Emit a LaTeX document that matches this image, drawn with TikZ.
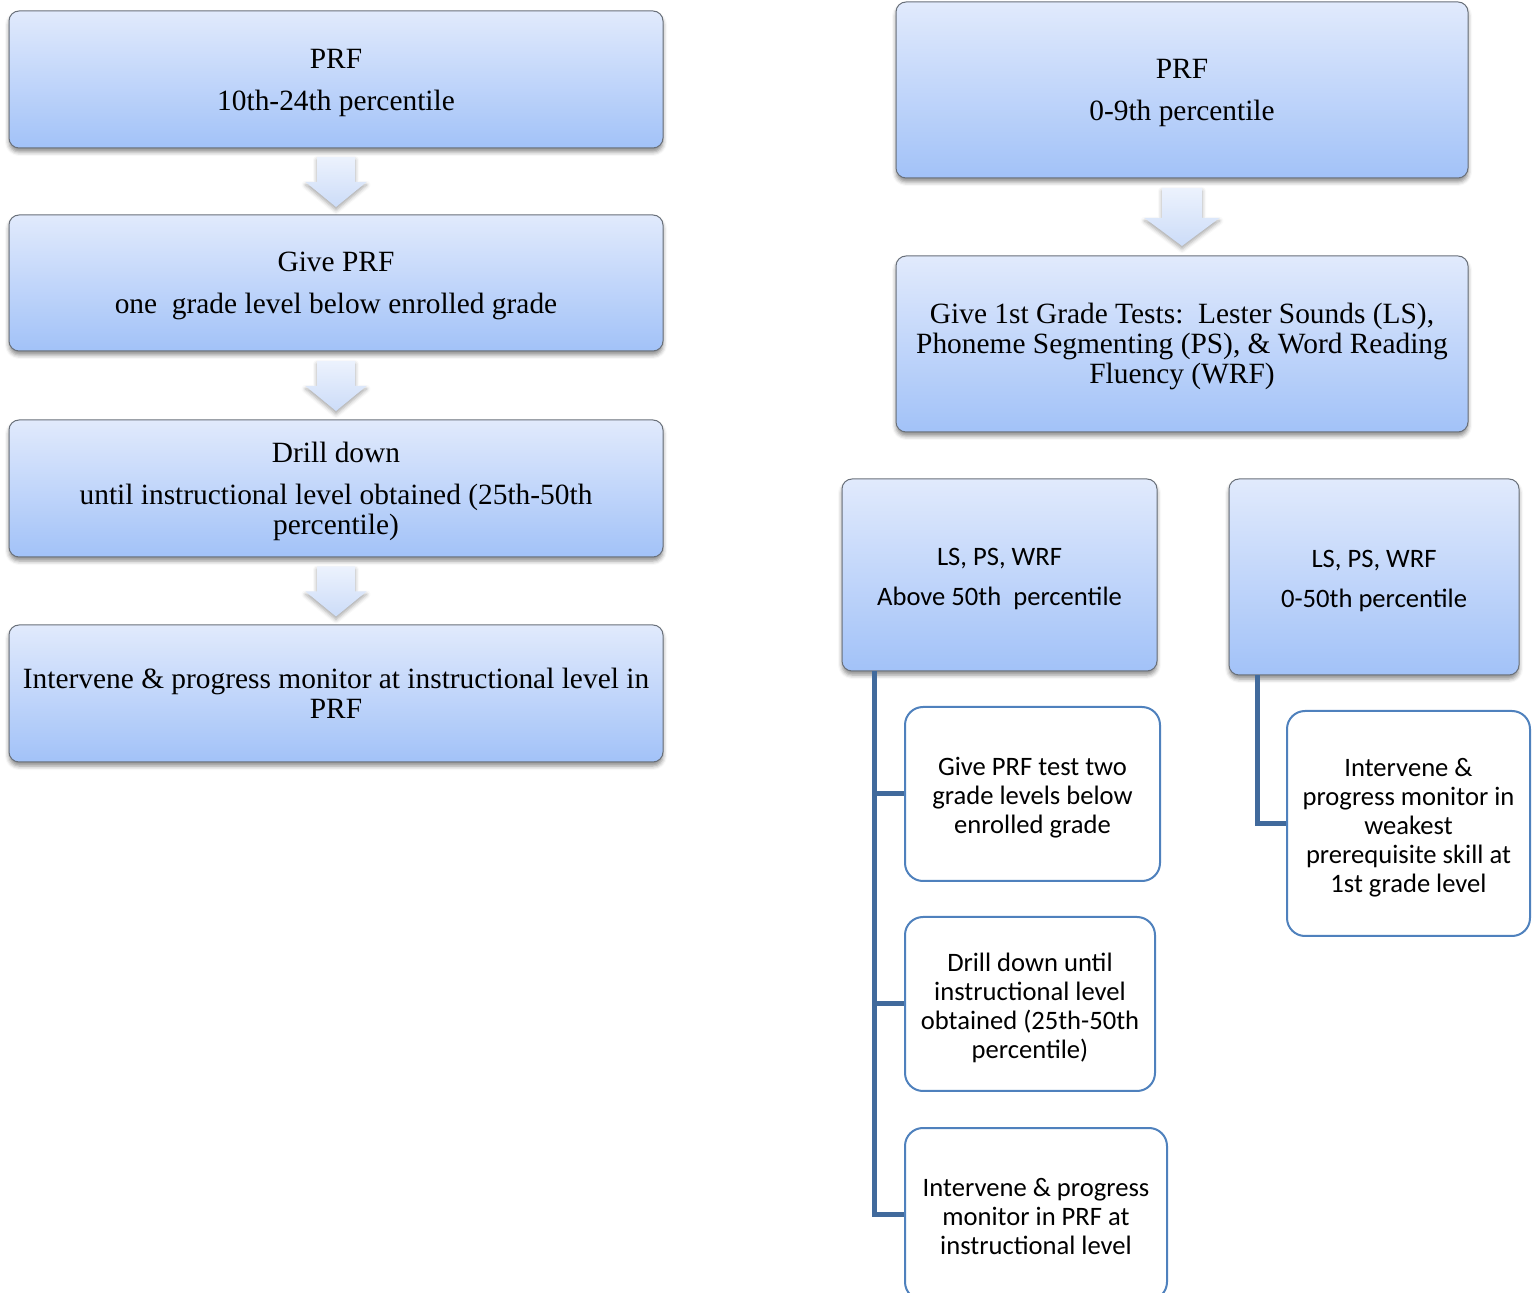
\documentclass[tikz,border=0pt]{standalone}
\usepackage{fontspec}
\setmainfont{Liberation Serif}
\newfontfamily\calib{Carlito}
\usetikzlibrary{shadows.blur,calc}
\definecolor{hdrTop}{RGB}{225,234,252}
\definecolor{hdrBot}{RGB}{162,194,248}
\definecolor{hdrEdge}{RGB}{105,112,122}
\definecolor{arrTop}{RGB}{236,242,253}
\definecolor{arrBot}{RGB}{204,220,248}
\definecolor{childBlue}{RGB}{79,129,189}
\definecolor{connBlue}{RGB}{65,106,156}
% struts giving every text block a fixed top and bottom, so that it sits
% at the same place in its box whatever letters it has
\newcommand\ts{\rule{0pt}{21pt}}
\newcommand\tss{\rule{0pt}{22pt}}
\newcommand\botstrut{\rule[-11pt]{0pt}{11pt}}
\tikzset{
  hdr/.style={draw=hdrEdge, line width=0.5pt, rounded corners=5pt,
    top color=hdrTop, bottom color=hdrBot,
    blur shadow={shadow xshift=0pt, shadow yshift=-2pt, shadow blur radius=2pt, shadow opacity=45},
    align=center, inner sep=0pt, execute at end node=\botstrut},
  serifhdr/.style={hdr, font=\fontsize{14.7}{15}\selectfont},
  sanshdr/.style={hdr, font=\calib\fontsize{13.3}{14.6}\selectfont},
  childbox/.style={draw=childBlue, line width=1pt, rounded corners=9pt, fill=white,
    align=center, inner sep=0pt, font=\calib\fontsize{13.3}{14.5}\selectfont,
    execute at end node=\botstrut},
  conn/.style={draw=connBlue, line width=2.5pt},
  blockarrow/.style={top color=arrTop, bottom color=arrBot, draw=none,
    blur shadow={shadow xshift=0pt, shadow yshift=-1.5pt, shadow blur radius=2pt, shadow opacity=35}}
}
% down-pointing block arrow centred on a coordinate:
% #1 centre, #2 half shaft width, #3 half head width, #4 shaft top, #5 head start, #6 tip
\newcommand\downblock[6]{%
  \path[blockarrow] ($(#1)+(-#2,#4)$) -- ($(#1)+(#2,#4)$) -- ($(#1)+(#2,#5)$)
    -- ($(#1)+(#3,#5)$) -- ($(#1)+(0,#6)$) -- ($(#1)+(-#3,#5)$)
    -- ($(#1)+(-#2,#5)$) -- cycle;}
\begin{document}
\begin{tikzpicture}[x=0.5pt,y=-0.5pt]
\useasboundingbox (0,0) rectangle (1538,1293);

% left column
\node[serifhdr, minimum width=327pt, minimum height=68.5pt] (l1) at (336,79.5)
  {\ts PRF\\[6pt]10th-24th percentile};
\node[serifhdr, minimum width=327pt, minimum height=68pt] (l2) at (336,283)
  {\ts Give PRF\\[6pt]one\ \ grade level below enrolled grade};
\node[serifhdr, minimum width=327pt, minimum height=68.5pt] (l3) at (336,488.5)
  {\ts Drill down\\[6pt]until instructional level obtained (25th-50th\\percentile)};
\node[serifhdr, minimum width=327pt, minimum height=68.5pt] (l4) at (336,693.5)
  {\ts Intervene \& progress monitor at instructional level in\\PRF};

\coordinate (a1) at ($(l1.south)!0.5!(l2.north)$);
\coordinate (a2) at ($(l2.south)!0.5!(l3.north)$);
\coordinate (a3) at ($(l3.south)!0.5!(l4.north)$);
\downblock{a1}{19}{30.5}{-24.5}{0.5}{25.5}
\downblock{a2}{19}{30.5}{-24.5}{0.5}{25.5}
\downblock{a3}{19}{30.5}{-24.5}{0.5}{25.5}

% right column
\node[serifhdr, minimum width=286pt, minimum height=88pt] (r1) at (1182,90)
  {\ts PRF\\[6pt]0-9th percentile};
\node[serifhdr, minimum width=286pt, minimum height=88pt] (r2) at (1182,344)
  {\ts Give 1st Grade Tests:\ \ Lester Sounds (LS),\\Phoneme Segmenting (PS), \& Word Reading\\Fluency (WRF)};
\coordinate (a4) at ($(r1.south)!0.5!(r2.north)$);
\downblock{a4}{20}{37.5}{-29}{1}{29}

\node[sanshdr, minimum width=157.5pt, minimum height=96pt] (r3) at (999.5,575)
  {\tss LS, PS, WRF\\[5.4pt]Above 50th\ \ percentile};
\node[sanshdr, minimum width=145pt, minimum height=98pt] (r4) at (1374,577)
  {\tss LS, PS, WRF\\[5.4pt]0-50th percentile};

\node[childbox, minimum width=127.5pt, minimum height=87pt] (c1) at (1032.5,794)
  {\tss Give PRF test two\\grade levels below\\enrolled grade};
\node[childbox, minimum width=125pt, minimum height=87pt] (c2) at (1030,1004)
  {\tss Drill down until\\instructional level\\obtained (25th-50th\\percentile)};
\node[childbox, minimum width=131pt, minimum height=86pt] (c3) at (1036,1214)
  {\tss Intervene \& progress\\monitor in PRF at\\instructional level};
\node[childbox, minimum width=121.5pt, minimum height=112.5pt] (c4) at (1408.5,823.5)
  {\tss Intervene \&\\progress monitor in\\weakest\\prerequisite skill at\\1st grade level};

% tree connectors
\draw[conn] ([xshift=16.5pt]r3.south west) |- (c1.west);
\draw[conn] ([xshift=16.5pt]r3.south west) |- (c2.west);
\draw[conn] ([xshift=16.5pt]r3.south west) |- (c3.west);
\draw[conn] ([xshift=14.5pt]r4.south west) |- (c4.west);
\end{tikzpicture}
\end{document}
